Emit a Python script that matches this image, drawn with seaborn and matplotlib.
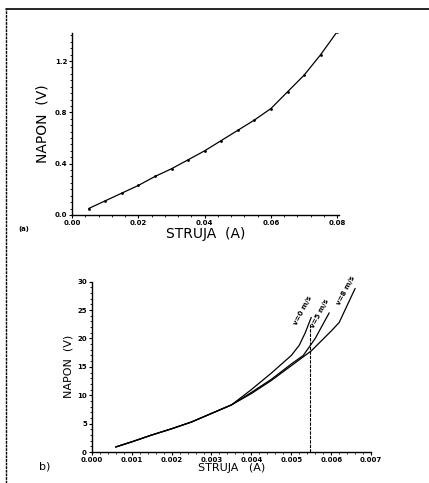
import seaborn as sns
import pandas as pd
import matplotlib.pyplot as plt
from matplotlib.ticker import MultipleLocator
from matplotlib.lines import Line2D

# panel (a)
struja_a = [0.005, 0.010, 0.015, 0.020, 0.025, 0.030, 0.035, 0.040,
            0.045, 0.050, 0.055, 0.060, 0.065, 0.070, 0.075, 0.080]
napon_a = [0.05, 0.11, 0.17, 0.23, 0.30, 0.36, 0.43, 0.50,
           0.58, 0.66, 0.74, 0.83, 0.96, 1.09, 1.25, 1.43]

# panel (b), three wind speeds
struja_v0 = [0.0006, 0.0010, 0.0015, 0.0020, 0.0025, 0.0030, 0.0035, 0.0040,
             0.0045, 0.0050, 0.0052, 0.00535, 0.0055]
napon_v0 = [0.9, 1.8, 3.0, 4.1, 5.3, 6.8, 8.3, 11.0, 13.9, 17.0, 18.8, 21.0, 23.7]
struja_v5 = [0.0006, 0.0010, 0.0015, 0.0020, 0.0025, 0.0030, 0.0035, 0.0040,
             0.0045, 0.0050, 0.0053, 0.0056, 0.00595]
napon_v5 = [0.9, 1.8, 3.0, 4.1, 5.3, 6.8, 8.3, 10.5, 12.8, 15.5, 17.0, 20.0, 24.5]
struja_v8 = [0.0006, 0.0010, 0.0015, 0.0020, 0.0025, 0.0030, 0.0035, 0.0040,
             0.0045, 0.0050, 0.0055, 0.0060, 0.0062, 0.0066]
napon_v8 = [0.9, 1.8, 3.0, 4.1, 5.3, 6.8, 8.3, 10.3, 12.6, 15.2, 17.8, 21.3, 22.8, 28.8]
brzine = ["v=0 m/s", "v=5 m/s", "v=8 m/s"]
granica = 0.00547

sns.set_style("ticks")
plt.rcParams['font.family'] = ['DejaVu Sans']
plt.rcParams['text.color'] = "black"
plt.rcParams['axes.labelcolor'] = "black"
plt.rcParams['xtick.color'] = "black"
plt.rcParams['ytick.color'] = "black"

df_a = pd.DataFrame({"struja": struja_a, "napon": napon_a})
df_b = pd.concat([
    pd.DataFrame({"struja": struja_v0, "napon": napon_v0, "v": brzine[0]}),
    pd.DataFrame({"struja": struja_v5, "napon": napon_v5, "v": brzine[1]}),
    pd.DataFrame({"struja": struja_v8, "napon": napon_v8, "v": brzine[2]}),
])

fig = plt.figure(figsize=(4.29, 4.83), dpi=100)
ax1 = fig.add_axes([0.168, 0.555, 0.622, 0.377])
ax2 = fig.add_axes([0.214, 0.064, 0.651, 0.353])

# frame around the figure
fig.add_artist(Line2D([0.014, 0.014], [0.0, 0.981], color="black", lw=1.0,
                      linestyle=(0, (2, 0.6)), transform=fig.transFigure))
fig.add_artist(Line2D([0.014, 1.0], [0.981, 0.981], color="black", lw=1.2,
                      transform=fig.transFigure))

sns.lineplot(data=df_a, x="struja", y="napon", ax=ax1, color="black", lw=0.9,
             marker="o", markersize=2, markeredgewidth=0)
ax1.set_xlim(0, 0.0805)
ax1.set_ylim(0, 1.42)
ax1.set_xticks([0.00, 0.02, 0.04, 0.06, 0.08])
ax1.set_xticklabels(["0.00", "0.02", "0.04", "0.06", "0.08"])
ax1.set_yticks([0.0, 0.4, 0.8, 1.2])
ax1.set_yticklabels(["0.0", "0.4", "0.8", "1.2"])
ax1.xaxis.set_minor_locator(MultipleLocator(0.004))
ax1.yaxis.set_minor_locator(MultipleLocator(0.05))
ax1.set_xlabel("STRUJA  (A)", fontsize=10, labelpad=1)
ax1.set_ylabel("NAPON  (V)", fontsize=10, labelpad=4)
ax1.text(-0.2, -0.09, "(a)", transform=ax1.transAxes, fontsize=5, fontweight="bold")

sns.lineplot(data=df_b, x="struja", y="napon", hue="v", ax=ax2,
             palette=["black", "black", "black"], lw=0.9, legend=False, sort=False)
ax2.vlines(granica, 0, 22.5, color="black", lw=0.8, linestyle=(0, (3, 1)))
ax2.set_xlim(0, 0.007)
ax2.set_ylim(0, 30)
ax2.set_xticks([0.000, 0.001, 0.002, 0.003, 0.004, 0.005, 0.006, 0.007])
ax2.set_xticklabels(["0.000", "0.001", "0.002", "0.003", "0.004", "0.005", "0.006", "0.007"])
ax2.set_yticks([0, 5, 10, 15, 20, 25, 30])
ax2.xaxis.set_minor_locator(MultipleLocator(0.0002))
ax2.yaxis.set_minor_locator(MultipleLocator(1))
ax2.set_xlabel("STRUJA   (A)", fontsize=8, labelpad=0)
ax2.set_ylabel("NAPON  (V)", fontsize=8, labelpad=3)
ax2.text(-0.19, -0.1, "b)", transform=ax2.transAxes, fontsize=8)

for lab, x, y in zip(brzine, [0.00528, 0.00572, 0.00637], [25.0, 24.3, 28.4]):
    ax2.text(x, y, lab, fontsize=5, fontweight="bold", rotation=62,
             ha="center", va="center")

for ax in (ax1, ax2):
    sns.despine(ax=ax)
    ax.tick_params(axis="both", which="major", labelsize=5, length=2.5, width=0.8, pad=1)
    ax.tick_params(axis="both", which="minor", length=1.2, width=0.6)
    for lbl in ax.get_xticklabels() + ax.get_yticklabels():
        lbl.set_fontweight("bold")
    for s in ("left", "bottom"):
        ax.spines[s].set_linewidth(1.0)
        ax.spines[s].set_color("black")

fig.savefig("out.png", dpi=100)
